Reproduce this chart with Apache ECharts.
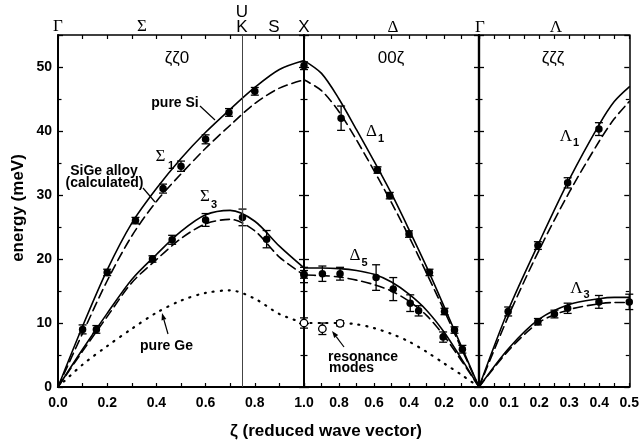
<!DOCTYPE html>
<html><head><meta charset="utf-8">
<script src="https://cdn.jsdelivr.net/npm/echarts/dist/echarts.min.js"></script>
<style>html,body{margin:0;padding:0;background:#fff}#c{width:642px;height:447px}</style>
</head><body><div id="c"></div>
<script>
// ---------- DATA ----------
// Sigma direction (zeta zeta 0), zeta from 0 (Gamma) to 1 (X)
const sigmaZeta   = [0, 0.1, 0.2, 0.3, 0.4, 0.5, 0.6, 0.7, 0.8, 0.9, 1.0];
const sigma1Si    = [0, 9.5, 18.3, 25.6, 31.0, 35.7, 39.8, 43.4, 46.8, 49.6, 51.0];
const sigma1Alloy = [0, 8.4, 16.6, 23.6, 29.0, 33.3, 37.3, 40.9, 44.3, 46.7, 48.0];
const sigma3Si    = [0, 5.9, 11.5, 16.8, 20.7, 24.3, 26.9, 27.6, 25.9, 22.0, 18.6];
const sigma3Alloy = [0, 5.6, 11.0, 16.3, 19.9, 23.2, 25.5, 26.2, 24.4, 20.3, 17.5];
const sigmaGe     = [0, 3.5, 6.4, 9.1, 11.6, 13.5, 14.7, 15.1, 13.8, 11.4, 10.0];
// Delta direction (0 0 zeta), zeta from 1 (X) to 0 (Gamma)
const deltaZeta   = [0, 0.1, 0.2, 0.3, 0.4, 0.5, 0.6, 0.7, 0.8, 0.9, 1.0];
const delta1Si    = [0, 6.3, 12.6, 18.8, 24.6, 30.2, 35.3, 40.2, 45.0, 49.0, 51.0];
const delta1Alloy = [0, 6.0, 12.0, 17.8, 23.5, 28.8, 33.8, 38.6, 43.0, 46.3, 48.0];
const delta5Si    = [0, 4.4, 8.6, 12.0, 14.5, 16.4, 17.6, 18.2, 18.5, 18.6, 18.6];
const delta5Alloy = [0, 4.1, 8.0, 11.2, 13.4, 15.0, 16.0, 16.7, 17.2, 17.4, 17.5];
const deltaGe     = [0, 1.9, 3.7, 5.5, 7.1, 8.3, 9.2, 9.8, 10.0, 10.0, 10.0];
// Lambda direction (zeta zeta zeta), zeta from 0 (Gamma) to 0.5 (L)
const lambdaZeta   = [0, 0.1, 0.2, 0.3, 0.4, 0.45, 0.5];
const lambda1Si    = [0, 12.3, 22.6, 32.4, 41.0, 44.6, 46.9];
const lambda1Alloy = [0, 11.3, 21.4, 30.4, 38.4, 41.9, 44.6];
const lambda3Si    = [0, 6.1, 10.6, 12.9, 13.8, 14.0, 14.0];
const lambda3Alloy = [0, 5.8, 10.1, 12.1, 13.0, 13.2, 13.2];
// measured points: [zeta, energy, error]
const sigma1Points = [[0.1,9.0,0.7],[0.2,17.9,0.5],[0.315,26.0,0.5],[0.427,31.0,0.7],[0.5,34.5,0.8],[0.6,38.7,0.7],[0.695,42.9,0.6],[0.8,46.2,0.6],[1.0,50.2,0.6]];
const sigma3Points = [[0.156,9.0,0.6],[0.384,20.0,0.5],[0.464,23.0,0.7],[0.6,26.1,1.0],[0.75,26.5,1.3],[0.848,23.1,1.35],[1.0,17.6,0.6]];
const delta1Points = [[0.788,42.0,1.9],[0.58,33.9,0.5],[0.51,29.9,0.5],[0.40,23.9,0.5],[0.283,17.9,0.5],[0.197,11.8,0.5],[0.14,8.9,0.5],[0.095,5.9,0.6]];
const delta5Points = [[1.0,17.5,1.2],[0.895,17.7,1.2],[0.794,17.7,1.0],[0.588,17.1,2.0],[0.49,15.3,1.8],[0.393,13.1,1.3],[0.345,11.9,0.8],[0.205,7.8,0.8]];
const resonancePoints = [[1.0,10.0,0.8],[0.895,9.1,0.9],[0.794,9.95,0.4]];
const lambda1Points = [[0.097,11.8,0.7],[0.196,22.1,0.6],[0.295,31.9,0.8],[0.399,40.3,1.0]];
const lambda3Points = [[0.196,10.2,0.5],[0.251,11.4,0.6],[0.295,12.3,0.8],[0.399,13.3,1.0],[0.5,13.3,1.2]];
const kPoint = 0.75;
const yMax = 55;

// ---------- CHART ----------
const chart = echarts.init(document.getElementById('c'));
const SANS = '"Liberation Sans", Arial, sans-serif';
const SERIF = '"Liberation Serif", "Times New Roman", serif';
const grids = [
  {left: 58, top: 35, width: 246, height: 352},
  {left: 304, top: 35, width: 175, height: 352},
  {left: 479, top: 35, width: 152, height: 352}
];
const isMult = (v, s) => Math.abs(v / s - Math.round(v / s)) < 1e-6;
const lblStyle = {fontFamily: SANS, fontWeight: 'bold', fontSize: 14, color: '#000'};
function xAx(g, pos, max, interval, inverse, fmt, lw) {
  return {
    type: 'value', gridIndex: g, position: pos, min: 0, max: max, interval: interval, inverse: inverse,
    axisLine: {show: true, onZero: false, lineStyle: {color: '#000', width: lw}},
    axisTick: {show: true, inside: true, length: 4, lineStyle: {color: '#000', width: 1.2}},
    axisLabel: fmt ? Object.assign({show: true, margin: 9, formatter: fmt}, lblStyle) : {show: false},
    splitLine: {show: false}
  };
}
function yAx(g, pos, labels, lw) {
  return {
    type: 'value', gridIndex: g, position: pos, min: 0, max: yMax, interval: 10,
    axisLine: {show: true, onZero: false, lineStyle: {color: '#000', width: lw}},
    axisTick: {show: true, inside: true, length: 5, lineStyle: {color: '#000', width: 1.3}},
    minorTick: {show: true, splitNumber: 2, length: 3.5, lineStyle: {color: '#000', width: 1.2}},
    axisLabel: labels ? Object.assign({show: true, margin: 6, formatter: v => v <= 50 ? String(v) : ''}, lblStyle) : {show: false},
    splitLine: {show: false}
  };
}
const xAxes = [
  xAx(0, 'bottom', 1, 0.1, false, v => (isMult(v, 0.2) && v < 0.95) ? v.toFixed(1) : '', 2),
  xAx(1, 'bottom', 1, 0.1, true, v => isMult(v, 0.2) ? v.toFixed(1) : '', 2),
  xAx(2, 'bottom', 0.5, 0.05, false, v => (isMult(v, 0.1) && v > 0.05) ? v.toFixed(1) : '', 2),
  xAx(0, 'top', 1, 0.1, false, null, 1.5),
  xAx(1, 'top', 1, 0.1, true, null, 1.5),
  xAx(2, 'top', 0.5, 0.05, false, null, 1.5)
];
const yAxes = [
  yAx(0, 'left', true, 2), yAx(1, 'left', false, 2), yAx(2, 'left', false, 2.2),
  yAx(0, 'right', false, 2), yAx(1, 'right', false, 2.2), yAx(2, 'right', false, 1.5)
];

const SOLID = 'solid', DASH = [9, 5], DOT = [1, 7];
function curve(ax, zs, es, type) {
  return {
    type: 'line', xAxisIndex: ax, yAxisIndex: ax, data: zs.map((z, i) => [z, es[i]]),
    smooth: 0.3, symbol: 'none', silent: true, z: 2,
    lineStyle: {color: '#000', width: type === DOT ? 2.2 : 1.6, type: type, cap: 'round'}
  };
}
function errBars(ax, pts) {
  return {
    type: 'custom', xAxisIndex: ax, yAxisIndex: ax, data: pts, silent: true, z: 3,
    encode: {x: 0, y: 1},
    renderItem: (params, api) => {
      const x = api.value(0), y = api.value(1), e = api.value(2);
      const a = api.coord([x, y + e]), b = api.coord([x, y - e]);
      const st = {stroke: '#000', lineWidth: 1.3};
      return {type: 'group', children: [
        {type: 'line', shape: {x1: a[0], y1: a[1], x2: b[0], y2: b[1]}, style: st},
        {type: 'line', shape: {x1: a[0] - 4, y1: a[1], x2: a[0] + 4, y2: a[1]}, style: st},
        {type: 'line', shape: {x1: b[0] - 4, y1: b[1], x2: b[0] + 4, y2: b[1]}, style: st}
      ]};
    }
  };
}
function dots(ax, pts, open) {
  return {
    type: 'scatter', xAxisIndex: ax, yAxisIndex: ax, data: pts.map(p => [p[0], p[1]]),
    symbol: 'circle', symbolSize: 7.5, silent: true, z: 4, clip: false,
    itemStyle: open ? {color: '#fff', borderColor: '#000', borderWidth: 1.3, opacity: 1} : {color: '#000', opacity: 1}
  };
}
const kLine = curve(0, sigmaZeta, sigma1Si, SOLID);
kLine.markLine = {silent: true, symbol: 'none', label: {show: false},
  lineStyle: {color: '#444', width: 1, type: 'solid'}, data: [{xAxis: kPoint}]};

const series = [
  kLine,
  curve(0, sigmaZeta, sigma1Alloy, DASH),
  curve(0, sigmaZeta, sigma3Si, SOLID),
  curve(0, sigmaZeta, sigma3Alloy, DASH),
  curve(0, sigmaZeta, sigmaGe, DOT),
  curve(1, deltaZeta, delta1Si, SOLID),
  curve(1, deltaZeta, delta1Alloy, DASH),
  curve(1, deltaZeta, delta5Si, SOLID),
  curve(1, deltaZeta, delta5Alloy, DASH),
  curve(1, deltaZeta, deltaGe, DOT),
  curve(2, lambdaZeta, lambda1Si, SOLID),
  curve(2, lambdaZeta, lambda1Alloy, DASH),
  curve(2, lambdaZeta, lambda3Si, SOLID),
  curve(2, lambdaZeta, lambda3Alloy, DASH),
  errBars(0, sigma1Points), dots(0, sigma1Points),
  errBars(0, sigma3Points), dots(0, sigma3Points),
  errBars(1, delta1Points), dots(1, delta1Points),
  errBars(1, delta5Points), dots(1, delta5Points),
  errBars(1, resonancePoints), dots(1, resonancePoints, true),
  errBars(2, lambda1Points), dots(2, lambda1Points),
  errBars(2, lambda3Points), dots(2, lambda3Points)
];

// ---------- ANNOTATIONS ----------
function T(text, x, y, font, align, rot) {
  return {type: 'text', x: x, y: y, rotation: rot || 0, z: 100, silent: true,
    style: {text: text, font: font, fill: '#000', textAlign: align || 'center', align: align || 'center',
      textVerticalAlign: 'middle', verticalAlign: 'middle'}};
}
function L(x1, y1, x2, y2) {
  return {type: 'line', z: 100, silent: true, shape: {x1, y1, x2, y2}, style: {stroke: '#000', lineWidth: 1.2}};
}
function Arrow(tx, ty, px, py) {
  const dx = tx - px, dy = ty - py, d = Math.hypot(dx, dy), ux = dx / d, uy = dy / d;
  const bx = tx - 7 * ux, by = ty - 7 * uy;
  return [L(px, py, bx, by), {type: 'polygon', z: 100, silent: true,
    shape: {points: [[tx, ty], [bx + 2.5 * uy, by - 2.5 * ux], [bx - 2.5 * uy, by + 2.5 * ux]]},
    style: {fill: '#000'}}];
}
const fSym = '17px ' + SERIF, fTop = '17px ' + SANS, fSub = 'bold 11px ' + SANS, fAnn = 'bold 14px ' + SANS;
const graphic = [
  T('Γ', 58, 27, fSym), T('Σ', 142, 27, fSym), T('U', 242, 12, fTop), T('K', 242, 27, fTop),
  T('S', 274, 27, fTop), T('X', 304, 27, fTop), T('Δ', 393, 28, fSym), T('Γ', 480, 28, fSym), T('Λ', 556, 28, fSym),
  T('ζζ0', 177, 58, fTop), T('00ζ', 391, 58, fTop), T('ζζζ', 553, 58, fTop),
  T('energy (meV)', 18, 208, 'bold 17px ' + SANS, 'center', Math.PI / 2),
  T('ζ (reduced wave vector)', 326, 431, 'bold 17px ' + SANS),
  T('pure Si', 175, 103, fAnn), L(200, 106, 215, 120),
  T('Σ', 160.5, 157, fSym), T('1', 171, 166, fSub),
  T('SiGe alloy', 104, 171.5, fAnn), T('(calculated)', 104.5, 183.5, fAnn), L(143, 188, 155, 202),
  T('Σ', 205, 197, fSym), T('3', 214, 205, fSub),
  T('pure Ge', 166.5, 346, fAnn), ...Arrow(162, 313, 168, 334),
  T('resonance', 328, 357, fAnn, 'left'), T('modes', 329, 368, fAnn, 'left'), ...Arrow(332, 331, 344, 347),
  T('Δ', 371.5, 132, fSym), T('1', 381, 139, fSub),
  T('Δ', 355, 256, fSym), T('5', 364.5, 263, fSub),
  T('Λ', 566, 137, fSym), T('1', 576, 143, fSub),
  T('Λ', 576.5, 289, fSym), T('3', 586.5, 295, fSub)
];

chart.setOption({
  animation: false,
  backgroundColor: '#fff',
  grid: grids,
  xAxis: xAxes,
  yAxis: yAxes,
  series: series,
  graphic: graphic
});
</script></body></html>
